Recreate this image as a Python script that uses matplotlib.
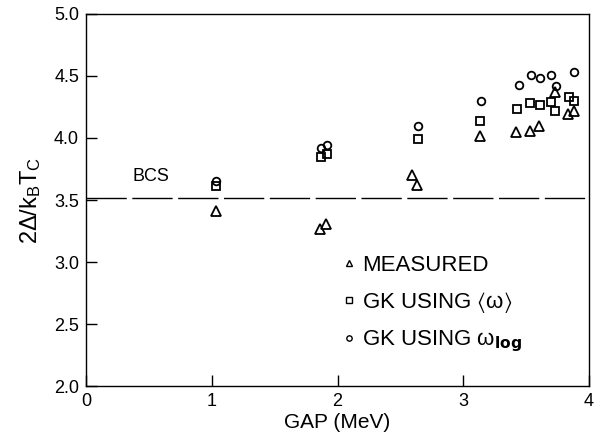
import matplotlib
matplotlib.use("Agg")
import matplotlib.pyplot as plt

plt.rcParams['font.family'] = ['Liberation Sans', 'DejaVu Sans']
plt.rcParams['mathtext.fontset'] = 'dejavusans'
plt.rcParams['mathtext.default'] = 'regular'

# ---- data ----
gap_meas = [1.03, 1.86, 1.91, 2.595, 2.63, 3.13, 3.42, 3.53, 3.60, 3.73, 3.83, 3.88]
ratio_meas = [3.41, 3.27, 3.31, 3.70, 3.62, 4.02, 4.05, 4.06, 4.10, 4.37, 4.19, 4.22]

gap_avg = [1.03, 1.87, 1.92, 2.64, 3.13, 3.43, 3.53, 3.61, 3.70, 3.73, 3.84, 3.88]
ratio_avg = [3.61, 3.85, 3.87, 3.99, 4.14, 4.23, 4.28, 4.27, 4.29, 4.22, 4.33, 4.30]

gap_log = [1.03, 1.87, 1.92, 2.64, 3.14, 3.44, 3.54, 3.61, 3.70, 3.74, 3.88]
ratio_log = [3.65, 3.92, 3.94, 4.10, 4.30, 4.43, 4.51, 4.48, 4.51, 4.42, 4.53]

bcs = 3.52

xticks = [0, 1, 2, 3, 4]
xticklabels = ['0', '1', '2', '3', '4']
yticks = [2.0, 2.5, 3.0, 3.5, 4.0, 4.5, 5.0]

fig = plt.figure(figsize=(5.95, 4.40), dpi=100)
ax = fig.add_axes([0.1445, 0.1227, 0.8455, 0.8455])

mk = dict(linestyle='none', markerfacecolor='none', markeredgecolor='black',
          markeredgewidth=1.3)
h1, = ax.plot(gap_meas, ratio_meas, marker='^', markersize=6.5, **mk)
h2, = ax.plot(gap_avg, ratio_avg, marker='s', markersize=5.2, **mk)
h3, = ax.plot(gap_log, ratio_log, marker='o', markersize=5.5, **mk)

ax.axhline(bcs, color='black', linewidth=1.0, linestyle=(0, (29, 4)))
ax.text(0.52, 3.69, 'BCS', fontsize=13, ha='center', va='center')

ax.set_xlim(0, 4)
ax.set_ylim(2.0, 5.0)
ax.set_xticks(xticks)
ax.set_xticklabels(xticklabels)
ax.set_yticks(yticks)
ax.set_yticklabels([f'{v:.1f}' for v in yticks])
ax.tick_params(direction='in', length=8, width=1.0, labelsize=13, pad=5)
for s in ax.spines.values():
    s.set_linewidth(1.0)

ax.set_xlabel('GAP (MeV)', fontsize=15, labelpad=2)
ax.set_ylabel(r'2$\Delta$/k$_B$T$_C$', fontsize=17, labelpad=8)

leg = ax.legend([h1, h2, h3],
                ['MEASURED', r'GK USING $\langle\omega\rangle$',
                 r'GK USING $\omega_{\mathbf{log}}$'],
                loc='upper left', bbox_to_anchor=(0.472, 0.394),
                frameon=False, fontsize=16, markerscale=0.7,
                handlelength=0.9, handletextpad=0.15, labelspacing=0.61,
                borderpad=0.2)
for lh in leg.legend_handles:
    lh.set_markeredgewidth(1.0)

fig.savefig('out.png', dpi=100)
